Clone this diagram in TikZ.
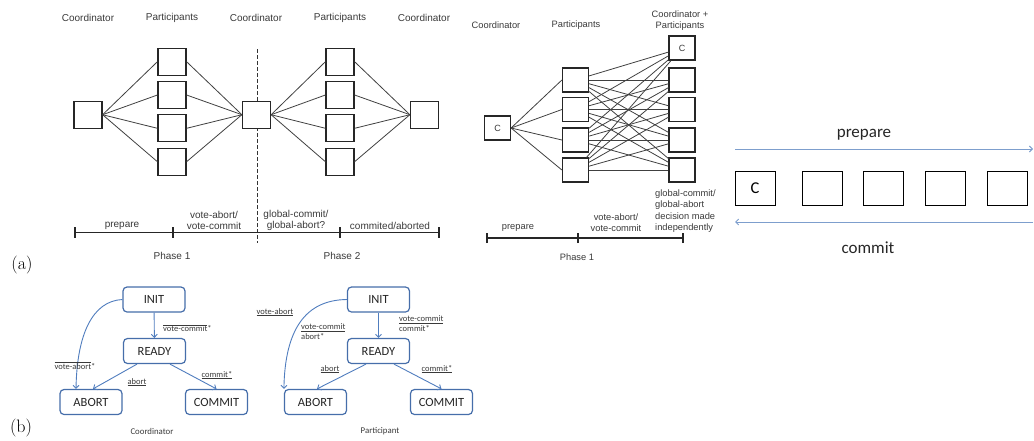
\documentclass[tikz,border=0pt]{standalone}
\usepackage{amsmath}
\usepackage{fontspec}
\newfontfamily\arialf{Liberation Sans}
\newfontfamily\calibf{Carlito}
\usetikzlibrary{arrows.meta,positioning,calc}
\definecolor{inkgray}{HTML}{3A3A3A}
\definecolor{boxblue}{RGB}{70,110,170}
\definecolor{arrblue}{RGB}{80,125,190}
\definecolor{lightblue}{RGB}{125,158,205}

\begin{document}
\begin{tikzpicture}[
    x=1pt, y=-1pt,
    >={Straight Barb[length=3pt,width=6pt]},
    lbl/.style={font=\arialf\fontsize{10}{11}\selectfont, text=inkgray, inner sep=0pt, align=center},
    slbl/.style={font=\arialf\fontsize{9.3}{11.3}\selectfont, text=inkgray, inner sep=0pt, align=center},
    site/.style={draw=black!85, line width=1.2pt, fill=white, minimum width=28pt,
                 minimum height=27pt, inner sep=0pt},
    ssite/.style={site, minimum width=26pt, minimum height=24pt,
                  font=\arialf\fontsize{9}{10}\selectfont, text=inkgray},
    link/.style={draw=black!75, line width=0.8pt},
    tline/.style={line width=1.1pt, black!85},
    clbl/.style={font=\calibf\fontsize{17}{19}\selectfont, text=black!85, inner sep=0pt},
    rsite/.style={draw=black, line width=1pt, minimum width=40pt, minimum height=34pt,
                  inner sep=0pt, font=\calibf\fontsize{16.5}{18}\selectfont},
    flow/.style={->, lightblue, line width=0.9pt},
    state/.style={draw=boxblue, line width=1.2pt, rounded corners=4pt, fill=white,
                  minimum width=62pt, minimum height=25pt, inner sep=0pt,
                  font=\calibf\fontsize{12.5}{13}\selectfont, text=black!85},
    move/.style={->, arrblue, line width=0.9pt},
    tag/.style={font=\calibf\fontsize{8.5}{10}\selectfont, text=inkgray, inner sep=0pt, align=left},
    sub/.style={font=\calibf\fontsize{8.8}{10}\selectfont, text=inkgray, inner sep=0pt},
    part/.style={font=\fontsize{18}{20}\selectfont, inner sep=0pt},
  ]
    \useasboundingbox (0,0) rectangle (1034,440);

    % --- (a) two-phase commit, two rounds ---
    \node[lbl] (h1) at (88,18) {Coordinator};
    \node[lbl] (h2) at (172,18) {Participants};
    \node[lbl] (h3) at (256,18) {Coordinator};
    \node[lbl] (h4) at (340,18) {Participants};
    \node[lbl] (h5) at (424,18) {Coordinator};

    % phase border, drawn first so the middle box hides it
    \coordinate (cutt) at (257,49);
    \coordinate (cutb) at (257,243);
    \draw[black!80, line width=0.9pt, dash pattern=on 4pt off 2pt] (cutt) -- (cutb);

    \node[site] (c1) at (88,114.7) {};
    \node[site] (c2) at (256.5,114.7) {};
    \node[site] (c3) at (424.5,114.7) {};
    \foreach \i/\y in {1/61.7,2/95,3/128.3,4/161.7} {
      \node[site] (pa\i) at (172,\y) {};
      \node[site] (pb\i) at (340,\y) {};
    }
    \foreach \i in {1,...,4} {
      \draw[link] (c1.east) -- (pa\i.west);
      \draw[link] (pa\i.east) -- (c2.west);
      \draw[link] (c2.east) -- (pb\i.west);
      \draw[link] (pb\i.east) -- (c3.west);
    }

    % time line
    \coordinate (t0) at (75,232.3);
    \coordinate (t1) at (173,232.3);
    \coordinate (t2) at (340,232.3);
    \coordinate (t3) at (439,232.3);
    \draw[tline] (t0) -- (t3);
    \foreach \t in {t0,t1,t2,t3}
      \draw[tline] ([yshift=-5.5pt]\t) -- ([yshift=5.5pt]\t);
    \node[lbl] (s1) at (122,226) {prepare};
    \node[lbl] (s2) at (214,220.5) {vote-abort/\\vote-commit};
    \node[lbl] (s3) at (296,220.5) {global-commit/\\global-abort?};
    \node[lbl] (s4) at (390,226) {commited/aborted};
    \node[lbl] (ph1) at (172,256) {Phase 1};
    \node[lbl] (ph2) at (342,256) {Phase 2};

    % --- (a) one-round variant ---
    \node[slbl] (g1) at (496,25) {Coordinator};
    \node[slbl] (g2) at (576,25) {Participants};
    \node[slbl] (g3) at (680,20.5) {Coordinator +\\Participants};

    \node[ssite] (m0) at (497.5,128) {C};
    \node[ssite] (r0) at (682,48) {C};
    \foreach \i/\y in {1/80,2/109.5,3/140,4/170} {
      \node[ssite] (q\i) at (575.5,\y) {};
      \node[ssite] (r\i) at (682,\y) {};
    }
    \foreach \i in {1,...,4} {
      \draw[link] (m0.east) -- (q\i.west);
      \foreach \j in {0,...,4}
        \draw[link] (q\i) -- (r\j);
    }

    \coordinate (u0) at (487,238);
    \coordinate (u1) at (578,238);
    \coordinate (u2) at (683,238);
    \draw[tline] (u0) -- (u2);
    \foreach \t in {u0,u1,u2}
      \draw[tline] ([yshift=-5pt]\t) -- ([yshift=5pt]\t);
    \node[slbl] (v1) at (518,228) {prepare};
    \node[slbl] (v2) at (616,222.5) {vote-abort/\\vote-commit};
    \node[slbl, anchor=west, align=left] (v3) at (655,211)
      {global-commit/\\global-abort\\decision made\\independently};
    \node[slbl] (ph3) at (577,257) {Phase 1};

    % --- (a) linear chain ---
    \node[clbl] (lp) at (864,135) {prepare};
    \coordinate (pl) at (735,149);
    \coordinate (pr) at (1033,149);
    \draw[flow] (pl) -- (pr);
    \node[rsite] (k1) at (755,188) {C};
    \node[rsite] (k2) at (822,188) {};
    \node[rsite] (k3) at (883.5,188) {};
    \node[rsite] (k4) at (945.5,188) {};
    \node[rsite] (k5) at (1007,188) {};
    \coordinate (cl) at (735,222);
    \coordinate (cr) at (1033,222);
    \draw[flow] (cr) -- (cl);
    \node[clbl] (lc) at (868,248) {commit};

    \node[part] (la) at (22,265) {(a)};

    % --- (b) state machines ---
    \node[state] (cinit) at (154,299.5) {INIT};
    \node[state] (cready) at (154.5,351) {READY};
    \node[state] (cabort) at (91,402) {ABORT};
    \node[state] (ccommit) at (216.5,402) {COMMIT};
    \draw[move] (cinit) -- (cready);
    \draw[move] (cinit.west) .. controls (92,301) and (77,335) .. ([xshift=-15pt]cabort.north);
    \draw[move] ([xshift=-17.5pt]cready.south) -- ([xshift=2pt]cabort.north);
    \draw[move] ([xshift=15.5pt]cready.south) -- (ccommit.north);
    \node[tag, anchor=west] (e1) at (163,328) {$\overline{\text{vote-commit}}$*};
    \node[tag] (e2) at (75,366) {$\overline{\text{vote-abort}}$*};
    \node[tag] (e3) at (137,382) {\underline{abort}};
    \node[tag] (e4) at (217,375) {\underline{commit*}};
    \node[sub] (n1) at (152,431) {Coordinator};

    \node[state] (pinit) at (378.5,299.5) {INIT};
    \node[state] (pready) at (378.5,351) {READY};
    \node[state] (pabort) at (315.5,402) {ABORT};
    \node[state] (pcommit) at (441.5,402) {COMMIT};
    \draw[move] (pinit) -- (pready);
    \draw[move] (pinit.west) .. controls (305,300) and (285,330) .. (pabort.north west);
    \draw[move] ([xshift=-12.5pt]pready.south) -- ([xshift=1.5pt]pabort.north);
    \draw[move] ([xshift=15.5pt]pready.south) -- (pcommit.north);
    \node[tag] (f1) at (275,312) {\underline{vote-abort}};
    \node[tag, anchor=west] (f2) at (301,332) {\underline{vote-commit}\\abort*};
    \node[tag, anchor=west] (f3) at (399,324) {\underline{vote-commit}\\commit*};
    \node[tag] (f4) at (330,369) {\underline{abort}};
    \node[tag] (f5) at (437,369) {\underline{commit*}};
    \node[sub] (n2) at (380,431) {Participant};

    \node[part] (lb) at (21,428) {(b)};
  \end{tikzpicture}
\end{document}
